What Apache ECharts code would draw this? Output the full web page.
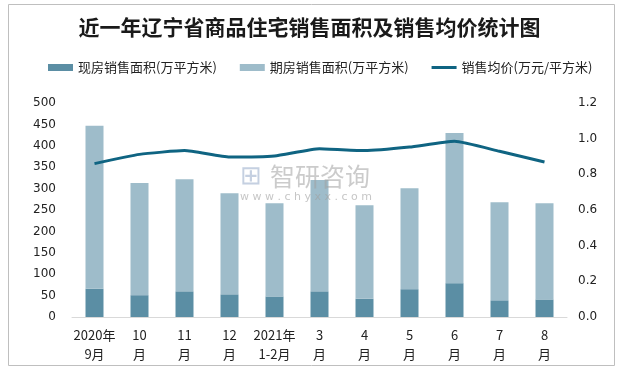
<!DOCTYPE html>
<html><head><meta charset="utf-8">
<script src="https://cdn.jsdelivr.net/npm/echarts@6/dist/echarts.min.js"></script>
<style>html,body{margin:0;padding:0;background:#fff}#c{width:619px;height:370px}</style>
</head><body><div id="c"></div>
<script>
const categories = ['2020年\n9月','10\n月','11\n月','12\n月','2021年\n1-2月','3\n月','4\n月','5\n月','6\n月','7\n月','8\n月'];
const spotArea = [66, 51, 60, 53, 48, 60, 43, 65, 79, 39, 41];
const futureArea = [381, 262, 262, 236, 218, 260, 218, 236, 351, 229, 225];
const avgPrice = [0.86, 0.912, 0.933, 0.897, 0.903, 0.944, 0.933, 0.953, 0.985, 0.929, 0.869];
const leftTicks = [0, 500, 50];
const rightTicks = [0, 1.2, 0.2];

const chart = echarts.init(document.getElementById('c'));
const font = 'DejaVu Sans';
const cjk = '"Noto Sans CJK SC", "DejaVu Sans"';
chart.setOption({
  animation: false,
  backgroundColor: '#fff',
  title: {
    text: '近一年辽宁省商品住宅销售面积及销售均价统计图',
    left: 'center', top: 12,
    textStyle: { fontFamily: cjk, fontSize: 21, fontWeight: 'bold', color: '#1a1a1a' }
  },
  legend: {
    top: 56, left: 43, itemGap: 23, itemWidth: 25, itemHeight: 7,
    textStyle: { fontFamily: cjk, fontSize: 13, color: '#222' },
    data: [
      { name: '现房销售面积(万平方米)', icon: 'rect' },
      { name: '期房销售面积(万平方米)', icon: 'rect' },
      { name: '销售均价(万元/平方米)', icon: 'path://M0,0 L25,0 L25,3 L0,3 Z' }
    ]
  },
  grid: { left: 72, right: 52, top: 103, bottom: 53 },
  xAxis: {
    type: 'category', data: categories,
    axisLine: { lineStyle: { color: '#d9d9d9' } },
    axisTick: { show: false },
    axisLabel: { fontFamily: cjk, fontSize: 13, color: '#222', lineHeight: 19, margin: 9, interval: 0 }
  },
  yAxis: [
    { type: 'value', min: leftTicks[0], max: leftTicks[1], interval: leftTicks[2],
      splitLine: { show: false }, axisLine: { show: false }, axisTick: { show: false },
      axisLabel: { fontFamily: font, fontSize: 12, color: '#222', margin: 16 } },
    { type: 'value', min: rightTicks[0], max: rightTicks[1], interval: rightTicks[2],
      splitLine: { show: false }, axisLine: { show: false }, axisTick: { show: false },
      axisLabel: { fontFamily: font, fontSize: 12, color: '#222', margin: 11,
        formatter: v => v.toFixed(1) } }
  ],
  series: [
    { name: '现房销售面积(万平方米)', type: 'bar', stack: 'a', data: spotArea,
      barWidth: 18, itemStyle: { color: '#5b8ea4' } },
    { name: '期房销售面积(万平方米)', type: 'bar', stack: 'a', data: futureArea,
      barWidth: 18, itemStyle: { color: '#9ebcca' } },
    { name: '销售均价(万元/平方米)', type: 'line', yAxisIndex: 1, data: avgPrice,
      smooth: 0.15, symbol: 'none', z: 5,
      lineStyle: { color: '#0f6482', width: 3 }, itemStyle: { color: '#0f6482' } }
  ],
  graphic: [
    { type: 'rect', shape: { x: 8.5, y: 4.5, width: 606, height: 361 },
      style: { fill: 'none', stroke: '#bfbfbf', lineWidth: 1 }, z: 100 },
    { type: 'text', left: 240, top: 164, z: 50,
      style: { text: '⊞', fontSize: 26, fill: 'rgba(150,170,200,0.55)' } },
    { type: 'text', left: 270, top: 164, z: 50,
      style: { text: '智研咨询', fontFamily: cjk, fontSize: 25, fill: 'rgba(160,160,160,0.55)' } },
    { type: 'text', left: 240, top: 192, z: 50,
      style: { text: 'w w w . c h y x x . c o m', fontFamily: font, fontSize: 11, fill: 'rgba(160,160,160,0.6)' } }
  ]
});
</script>
</body></html>
